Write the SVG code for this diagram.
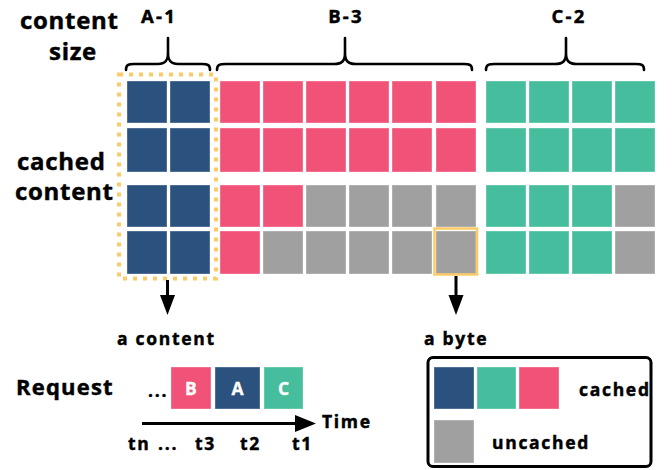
<svg xmlns="http://www.w3.org/2000/svg" width="672" height="470" viewBox="0 0 672 470">
  <style>
    .t { font-family: "Open Sans", "DejaVu Sans", sans-serif; font-weight: 700; fill: #000; stroke: #000; stroke-width: 0.45; }
    .big { font-size: 24px; letter-spacing: 0.7px; }
    .mid { font-size: 17.5px; letter-spacing: 1.7px; }
    .hdr { font-size: 18.5px; letter-spacing: 2.2px; }
    .req { font-size: 22px; letter-spacing: 1.2px; }
    .in { font-size: 17.5px; fill: #fff; stroke: #fff; stroke-width: 0.3; }
    .blue { fill: #2B527E; }
    .pink { fill: #F05278; }
    .green { fill: #46BE9E; }
    .gray { fill: #A0A0A0; }
    .cell { stroke: #fff; stroke-opacity: 0.35; stroke-width: 1; }
    .brace { fill: none; stroke: #000; stroke-width: 2.6; stroke-linecap: round; stroke-linejoin: round; }
    .line { fill: none; stroke: #000; stroke-width: 3; }
  </style>

  <!-- axis labels -->
  <g id="label-content-size">
    <text class="t big" x="20" y="29">content</text>
    <text class="t big" x="49" y="60">size</text>
  </g>
  <g id="label-cached-content">
    <text class="t big" x="17" y="170">cached</text>
    <text class="t big" x="15" y="200">content</text>
  </g>

  <!-- content headers with braces -->
  <g id="header-a1">
    <text class="t hdr" x="159" y="23" text-anchor="middle">A-1</text>
    <path class="brace" d="M126,70 C126,65 128,64 134,64 L158,64 C165,64 168,61 168,53 L168,38 M168,53 C168,61 171,64 178,64 L202,64 C208,64 210,65 210,70"/>
  </g>
  <g id="header-b3">
    <text class="t hdr" x="346" y="23" text-anchor="middle">B-3</text>
    <path class="brace" d="M217,70 C217,65 219,64 226,64 L334,64 C342,64 345,61 345,53 L345,38 M345,53 C345,61 348,64 356,64 L464,64 C470,64 472,65 472,70"/>
  </g>
  <g id="header-c2">
    <text class="t hdr" x="569" y="23" text-anchor="middle">C-2</text>
    <path class="brace" d="M486,70 C486,65 488,64 495,64 L555,64 C563,64 566,61 566,53 L566,38 M566,53 C566,61 569,64 577,64 L636,64 C642,64 644,65 644,70"/>
  </g>

  <!-- cache grid: content A -->
  <g id="content-a">
    <rect class="cell blue" x="127" y="81" width="40" height="42"/>
    <rect class="cell blue" x="170" y="81" width="40" height="42"/>
    <rect class="cell blue" x="127" y="128" width="40" height="44"/>
    <rect class="cell blue" x="170" y="128" width="40" height="44"/>
    <rect class="cell blue" x="127" y="185" width="40" height="42"/>
    <rect class="cell blue" x="170" y="185" width="40" height="42"/>
    <rect class="cell blue" x="127" y="231" width="40" height="43"/>
    <rect class="cell blue" x="170" y="231" width="40" height="43"/>
  </g>

  <!-- cache grid: content B -->
  <g id="content-b">
    <rect class="cell pink" x="220" y="81" width="40" height="42"/>
    <rect class="cell pink" x="263" y="81" width="40" height="42"/>
    <rect class="cell pink" x="306" y="81" width="40" height="42"/>
    <rect class="cell pink" x="349" y="81" width="40" height="42"/>
    <rect class="cell pink" x="392" y="81" width="40" height="42"/>
    <rect class="cell pink" x="436" y="81" width="40" height="42"/>

    <rect class="cell pink" x="220" y="128" width="40" height="44"/>
    <rect class="cell pink" x="263" y="128" width="40" height="44"/>
    <rect class="cell pink" x="306" y="128" width="40" height="44"/>
    <rect class="cell pink" x="349" y="128" width="40" height="44"/>
    <rect class="cell pink" x="392" y="128" width="40" height="44"/>
    <rect class="cell pink" x="436" y="128" width="40" height="44"/>

    <rect class="cell pink" x="220" y="185" width="40" height="42"/>
    <rect class="cell pink" x="263" y="185" width="40" height="42"/>
    <rect class="cell gray" x="306" y="185" width="40" height="42"/>
    <rect class="cell gray" x="349" y="185" width="40" height="42"/>
    <rect class="cell gray" x="392" y="185" width="40" height="42"/>
    <rect class="cell gray" x="436" y="185" width="40" height="42"/>

    <rect class="cell pink" x="220" y="231" width="40" height="43"/>
    <rect class="cell gray" x="263" y="231" width="40" height="43"/>
    <rect class="cell gray" x="306" y="231" width="40" height="43"/>
    <rect class="cell gray" x="349" y="231" width="40" height="43"/>
    <rect class="cell gray" x="392" y="231" width="40" height="43"/>
    <rect class="cell gray" x="436" y="231" width="40" height="43"/>
  </g>

  <!-- cache grid: content C -->
  <g id="content-c">
    <rect class="cell green" x="486" y="81" width="40" height="42"/>
    <rect class="cell green" x="529" y="81" width="40" height="42"/>
    <rect class="cell green" x="572" y="81" width="40" height="42"/>
    <rect class="cell green" x="615" y="81" width="40" height="42"/>

    <rect class="cell green" x="486" y="128" width="40" height="44"/>
    <rect class="cell green" x="529" y="128" width="40" height="44"/>
    <rect class="cell green" x="572" y="128" width="40" height="44"/>
    <rect class="cell green" x="615" y="128" width="40" height="44"/>

    <rect class="cell green" x="486" y="185" width="40" height="42"/>
    <rect class="cell green" x="529" y="185" width="40" height="42"/>
    <rect class="cell green" x="572" y="185" width="40" height="42"/>
    <rect class="cell gray" x="615" y="185" width="40" height="42"/>

    <rect class="cell green" x="486" y="231" width="40" height="43"/>
    <rect class="cell green" x="529" y="231" width="40" height="43"/>
    <rect class="cell green" x="572" y="231" width="40" height="43"/>
    <rect class="cell gray" x="615" y="231" width="40" height="43"/>
  </g>

  <!-- highlights -->
  <g id="highlight-content">
    <rect x="119" y="74.5" width="97" height="204" fill="none" stroke="#FDCA68" stroke-width="4" stroke-dasharray="4 6"/>
  </g>
  <g id="highlight-byte">
    <rect x="434.5" y="228.5" width="42.5" height="46" fill="none" stroke="#FDCA68" stroke-width="2.5"/>
  </g>

  <!-- connectors -->
  <g id="connectors">
    <line class="line" x1="167.5" y1="280" x2="167.5" y2="298"/>
    <polygon points="160,295 175,295 167.5,315"/>
    <line class="line" x1="456" y1="276" x2="456" y2="298"/>
    <polygon points="448.5,295 463.5,295 456,315"/>
    <line class="line" x1="142" y1="423.5" x2="298" y2="423.5"/>
    <polygon points="295,415 316,423.5 295,432"/>
  </g>

  <g id="label-a-content">
    <text class="t mid" x="117" y="345">a content</text>
  </g>
  <g id="label-a-byte">
    <text class="t mid" x="424" y="345">a byte</text>
  </g>

  <!-- request sequence -->
  <g id="request">
    <text class="t req" x="16" y="395">Request</text>
    <text class="t mid" x="148" y="397" letter-spacing="0">...</text>
  </g>
  <g id="req-b">
    <rect class="cell pink" x="171" y="367" width="40" height="42"/>
    <text class="t in" x="191" y="395" text-anchor="middle">B</text>
  </g>
  <g id="req-a">
    <rect class="cell blue" x="215" y="367" width="45" height="42"/>
    <text class="t in" x="237.5" y="395" text-anchor="middle">A</text>
  </g>
  <g id="req-c">
    <rect class="cell green" x="264" y="367" width="39" height="42"/>
    <text class="t in" x="283.5" y="395" text-anchor="middle">C</text>
  </g>
  <g id="time-axis">
    <text class="t mid" x="322" y="428">Time</text>
    <text class="t mid" x="128" y="450">tn</text>
    <text class="t mid" x="158" y="450" letter-spacing="0">...</text>
    <text class="t mid" x="195" y="450">t3</text>
    <text class="t mid" x="240" y="450">t2</text>
    <text class="t mid" x="292" y="450">t1</text>
  </g>

  <!-- legend -->
  <g id="legend">
    <rect x="428" y="357.5" width="223" height="109" rx="5" fill="#fff" stroke="#000" stroke-width="3"/>
    <rect class="cell blue" x="434" y="367" width="40" height="42"/>
    <rect class="cell green" x="477" y="367" width="39" height="42"/>
    <rect class="cell pink" x="519" y="367" width="40" height="42"/>
    <rect class="cell gray" x="434" y="420" width="40" height="43"/>
    <text class="t mid" x="579" y="396" letter-spacing="1.2">cached</text>
    <text class="t mid" x="492" y="449" letter-spacing="1.2">uncached</text>
  </g>
</svg>
